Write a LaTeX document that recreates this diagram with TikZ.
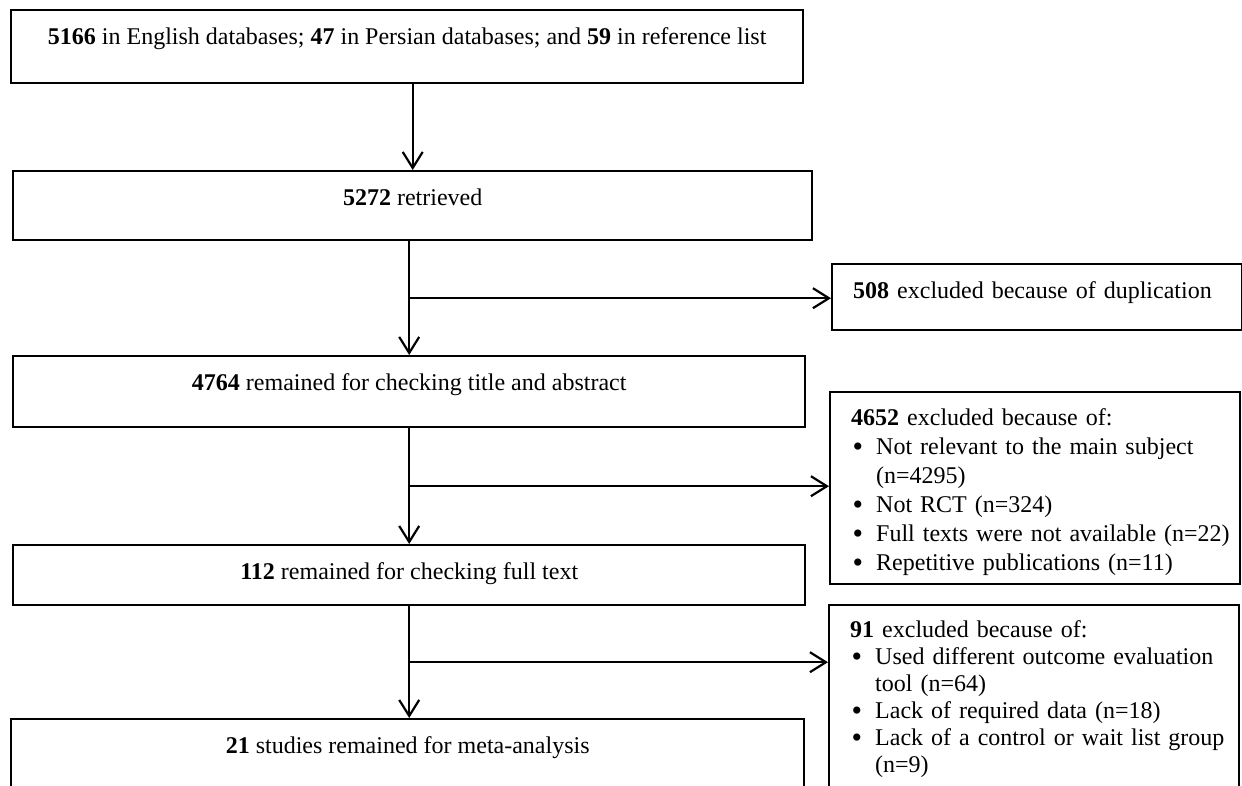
\documentclass[tikz,border=0pt]{standalone}
\usepackage{fontspec}
\setmainfont{Liberation Serif}
\usepackage{tikz}
\usetikzlibrary{arrows.meta,calc,positioning}
\newcommand{\bul}{\makebox[25pt][l]{\hspace{1.5pt}\raisebox{-1.8pt}{\scalebox{1.25}{\textbullet}}}}
\newcommand{\cont}{\hspace*{25pt}}

\begin{document}
\begin{tikzpicture}[x=1pt,y=-1pt,
  flowbox/.style={draw,line width=2.4pt,anchor=north west,inner sep=0pt,text height=34pt,
    font=\fontsize{24}{29}\selectfont},
  sidebox/.style={flowbox,inner xsep=21pt,text width=368pt,align=left},
  arr/.style={line width=2.2pt,-{Straight Barb[length=16pt,width=20pt]}}]
  \useasboundingbox (0,0) rectangle (1242,785);
  % main column
  \node[flowbox,minimum width=792pt,text depth=39pt] (src) at (10,9)
    {\textbf{5166} in English databases; \textbf{47} in Persian databases; and \textbf{59} in reference list};
  \node[flowbox,minimum width=799pt,text depth=35pt] (ret) at (12,170) {\textbf{5272} retrieved};
  \node[flowbox,minimum width=792pt,text depth=37pt] (tia) at (12,355) {\textbf{4764} remained for checking title and abstract};
  \node[flowbox,minimum width=792pt,text depth=26pt] (ftx) at (12,544) {\textbf{112} remained for checking full text};
  \node[flowbox,minimum width=793pt,text depth=34pt] (meta) at (10,718) {\textbf{21} studies remained for meta-analysis};
  % exclusions
  \node[sidebox,text depth=32pt] (dup) at (831,263) {\textbf{508} excluded because of duplication};
  \node[sidebox,text height=33pt,text depth=159pt] (exA) at (829,391) {\begin{tabular}[t]{@{}l@{}}
    \textbf{4652} excluded because of:\\
    \bul Not relevant to the main subject\\
    \cont (n=4295)\\
    \bul Not RCT (n=324)\\
    \bul Full texts were not available (n=22)\\
    \bul Repetitive publications (n=11)
  \end{tabular}};
  \node[sidebox,text height=32pt,text depth=260pt] (exB) at (828,604) {\fontsize{24}{27}\selectfont
    \begin{tabular}[t]{@{}l@{}}
    \textbf{91} excluded because of:\\
    \bul Used different outcome evaluation\\
    \cont tool (n=64)\\
    \bul Lack of required data (n=18)\\
    \bul Lack of a control or wait list group\\
    \cont (n=9)
  \end{tabular}};
  % connectors
  \draw[arr] (ret.north |- src.south) -- (ret.north);
  \draw[arr] (tia.north |- ret.south) -- (tia.north);
  \draw[arr] (tia.south) -- (tia.south |- ftx.north);
  \draw[arr] (ftx.south) -- (ftx.south |- meta.north);
  \coordinate (j1) at ($(tia.north |- ret.south)!.5!(tia.north)$);
  \coordinate (j2) at ($(tia.south)!.5!(tia.south |- ftx.north)$);
  \coordinate (j3) at ($(ftx.south)!.5!(ftx.south |- meta.north)$);
  \draw[arr] (j1) -- (j1 -| dup.west);
  \draw[arr] (j2) -- (j2 -| exA.west);
  \draw[arr] (j3) -- (j3 -| exB.west);
\end{tikzpicture}
\end{document}
